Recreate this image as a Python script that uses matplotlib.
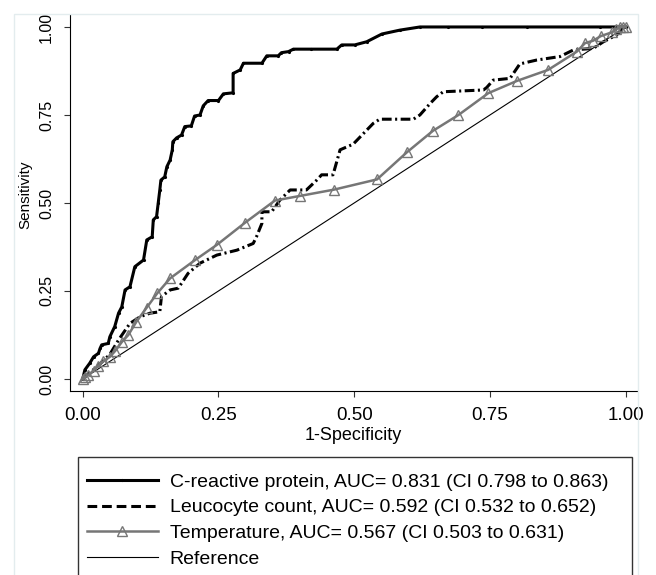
import matplotlib
matplotlib.use("Agg")
from matplotlib import pyplot as plt
from matplotlib.lines import Line2D
from matplotlib.patches import Rectangle

plt.rcParams['font.family'] = ['Liberation Sans', 'DejaVu Sans']
plt.rcParams['lines.scale_dashes'] = False

# C-reactive protein ROC curve
crp_fpr = [0, 0.004, 0.013, 0.020, 0.029, 0.032, 0.035, 0.047, 0.050, 0.059, 0.066,
           0.072, 0.078, 0.087, 0.096, 0.112, 0.118, 0.128, 0.130, 0.136, 0.139,
           0.142, 0.144, 0.151, 0.155, 0.161, 0.165, 0.166, 0.173, 0.182, 0.188,
           0.200, 0.206, 0.216, 0.222, 0.231, 0.250, 0.259, 0.277, 0.277, 0.290,
           0.296, 0.330, 0.339, 0.360, 0.366, 0.379, 0.388, 0.420, 0.468, 0.477,
           0.501, 0.523, 0.551, 0.584, 0.621, 0.673, 0.736, 0.818, 0.953, 1.0]
crp_tpr = [0, 0.026, 0.045, 0.063, 0.073, 0.087, 0.097, 0.101, 0.120, 0.149, 0.187,
           0.205, 0.253, 0.262, 0.319, 0.338, 0.395, 0.404, 0.452, 0.461, 0.499,
           0.537, 0.565, 0.574, 0.603, 0.622, 0.651, 0.674, 0.685, 0.693, 0.717,
           0.719, 0.747, 0.750, 0.776, 0.791, 0.791, 0.810, 0.813, 0.868, 0.878,
           0.897, 0.897, 0.918, 0.918, 0.927, 0.930, 0.937, 0.937, 0.937, 0.949,
           0.949, 0.958, 0.980, 0.991, 1.0, 1.0, 1.0, 1.0, 1.0, 1.0]

# Leucocyte count ROC curve
leu_fpr = [0, 0.015, 0.030, 0.050, 0.066, 0.087, 0.106, 0.124, 0.142, 0.145, 0.161,
           0.176, 0.194, 0.216, 0.247, 0.284, 0.314, 0.320, 0.330, 0.330, 0.348,
           0.363, 0.382, 0.412, 0.431, 0.440, 0.461, 0.474, 0.498, 0.535, 0.547,
           0.609, 0.621, 0.640, 0.652, 0.664, 0.738, 0.744, 0.756, 0.787, 0.805,
           0.836, 0.879, 0.904, 0.940, 0.959, 0.983, 0.995, 1.0]
leu_tpr = [0, 0.020, 0.040, 0.070, 0.111, 0.158, 0.177, 0.187, 0.191, 0.234, 0.253,
           0.258, 0.300, 0.329, 0.352, 0.366, 0.385, 0.404, 0.442, 0.475, 0.475,
           0.508, 0.537, 0.537, 0.565, 0.580, 0.580, 0.651, 0.667, 0.726, 0.738,
           0.738, 0.750, 0.783, 0.802, 0.816, 0.821, 0.828, 0.849, 0.854, 0.895,
           0.906, 0.916, 0.935, 0.939, 0.958, 0.977, 0.996, 1.0]

# Temperature ROC curve
tmp_fpr = [0, 0.005, 0.010, 0.020, 0.029, 0.038, 0.050, 0.060, 0.072, 0.084, 0.099,
           0.118, 0.137, 0.161, 0.207, 0.247, 0.299, 0.354, 0.400, 0.463, 0.542,
           0.597, 0.645, 0.692, 0.747, 0.800, 0.857, 0.910, 0.925, 0.940, 0.954,
           0.975, 0.983, 0.990, 0.995, 1.0]
tmp_tpr = [0, 0.005, 0.011, 0.024, 0.038, 0.050, 0.063, 0.080, 0.105, 0.125, 0.163,
           0.203, 0.243, 0.286, 0.338, 0.381, 0.444, 0.507, 0.520, 0.538, 0.567,
           0.644, 0.705, 0.750, 0.812, 0.847, 0.878, 0.930, 0.954, 0.961, 0.974,
           0.985, 0.995, 1.0, 1.0, 1.0]

labels = ["C-reactive protein, AUC= 0.831 (CI 0.798 to 0.863)",
          "Leucocyte count, AUC= 0.592 (CI 0.532 to 0.652)",
          "Temperature, AUC= 0.567 (CI 0.503 to 0.631)",
          "Reference"]
ticks = [0, 0.25, 0.5, 0.75, 1.0]
tick_labels = ["0.00", "0.25", "0.50", "0.75", "1.00"]

grey = '#767676'

fig = plt.figure(figsize=(6.56, 5.75), dpi=100)
ax = fig.add_axes([70 / 656, 1 - 391 / 575, 567 / 656, 376 / 575])

# faint outer region border
fig.patches.append(Rectangle((14 / 656, -0.05), 624 / 656, 1 - 14 / 575 + 0.05,
                             transform=fig.transFigure, fill=False,
                             edgecolor='#e3ecee', linewidth=1))
# legend box (runs off the bottom edge)
fig.patches.append(Rectangle((78 / 656, -0.05), 554 / 656, 1 - 457 / 575 + 0.05,
                             transform=fig.transFigure, fill=False,
                             edgecolor='#333333', linewidth=1))

ax.plot([0, 1], [0, 1], color='black', linewidth=0.8)
ax.plot(crp_fpr, crp_tpr, color='black', linewidth=2.2, marker='.', markersize=2.5)
ax.plot(leu_fpr, leu_tpr, color='black', linewidth=2.2, dashes=(7, 2.5, 1.5, 2.5))
ax.plot(tmp_fpr, tmp_tpr, color=grey, linewidth=1.8, marker='^', markersize=7.5,
        markerfacecolor='none', markeredgecolor=grey, markeredgewidth=1)

ax.set_xlim(-0.0234, 1.0208)
ax.set_ylim(-0.0341, 1.034)
ax.spines['top'].set_visible(False)
ax.spines['right'].set_visible(False)
ax.set_xticks(ticks)
ax.set_xticklabels(tick_labels, fontsize=13.5)
ax.set_yticks(ticks)
ax.set_yticklabels(tick_labels, fontsize=11.5, rotation=90, va='center')
ax.tick_params(direction='out', length=4.5, width=0.8, color='#333333')
ax.tick_params(axis='x', pad=7)
ax.tick_params(axis='y', pad=7)
ax.set_xlabel('1-Specificity', fontsize=13, labelpad=2)
ax.set_ylabel('Sensitivity', fontsize=11)
ax.yaxis.set_label_coords(-0.067, 0.521)

handles = [
    Line2D([], [], color='black', linewidth=2.2, marker='.', markersize=2.5, markevery=[1]),
    Line2D([], [], color='black', linewidth=2.2, dashes=(7, 3.5)),
    Line2D([], [], color=grey, linewidth=1.8, marker='^', markersize=7.5,
           markerfacecolor='none', markeredgecolor=grey),
    Line2D([], [], color='black', linewidth=0.8),
]
leg = fig.legend(handles, labels, loc='upper left',
                 bbox_to_anchor=(87 / 656, 1 - 473 / 575),
                 fontsize=14, frameon=False, handlelength=3.65, handletextpad=0.6,
                 borderpad=0, labelspacing=0.42, borderaxespad=0)

fig.savefig('out.png', dpi=100)
